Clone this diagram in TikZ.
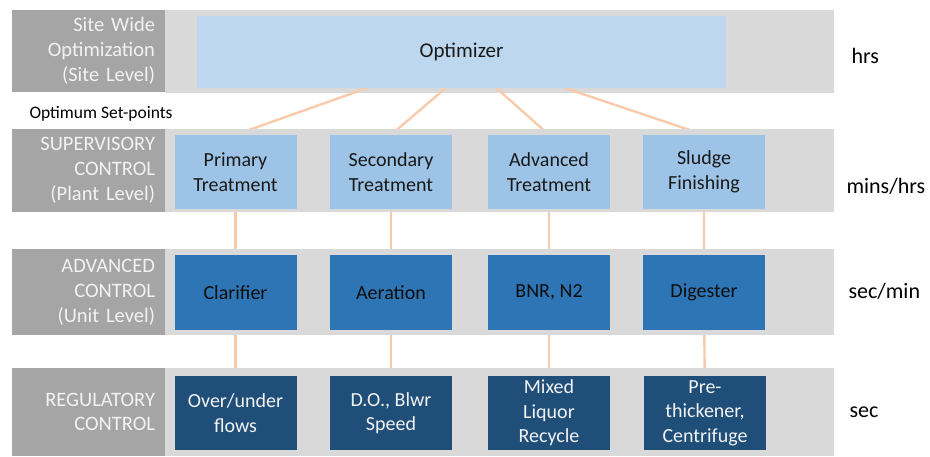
\documentclass[tikz,border=0pt]{standalone}
\usepackage{fontspec}
\setmainfont{Carlito}
\usepackage{tikz}
\usetikzlibrary{positioning}
\definecolor{bandgray}{HTML}{D9D9D9}
\definecolor{lvlgray}{HTML}{A5A5A5}
\definecolor{optblue}{HTML}{BDD7EE}
\definecolor{plantblue}{HTML}{9DC3E6}
\definecolor{unitblue}{HTML}{2E75B6}
\definecolor{regblue}{HTML}{1F4E79}
\definecolor{linkpeach}{HTML}{F8CBAD}
\pgfdeclarelayer{topband}
\pgfdeclarelayer{links}
\pgfdeclarelayer{bands}
\pgfsetlayers{topband,links,bands,main}
\newcommand{\boxfont}{\fontsize{20}{24.5}\selectfont}
\tikzset{
  band/.style={fill=bandgray, minimum width=669pt, inner sep=0pt},
  lvl/.style={fill=lvlgray, text=white!95!black, text width=133pt, inner xsep=10pt, inner ysep=0pt, align=right, font=\fontsize{20.5}{24.8}\selectfont},
  tier/.style={minimum width=122pt, inner sep=0pt, align=center, font=\boxfont},
  planttier/.style={tier, fill=plantblue, text=black!90, minimum height=74pt},
  unittier/.style={tier, fill=unitblue, text=black!95, minimum height=75pt},
  regtier/.style={tier, fill=regblue, text=white!95!black, minimum height=74pt},
  tscale/.style={anchor=base west, font=\fontsize{22}{26}\selectfont},
  link/.style={draw=linkpeach, line width=2.4pt}
}

\begin{document}
\begin{tikzpicture}[x=1pt, y=-1pt]
  \useasboundingbox (0,0) rectangle (930,456);

  % site level
  \begin{pgfonlayer}{topband}
    \node[band, minimum height=83pt] (b1) at (499.5,51.5) {};
    \node[lvl, minimum height=82pt] (l1) at (88.5,51) {Site Wide\\Optimization\\(Site Level)};
  \end{pgfonlayer}
  \node[fill=optblue, minimum width=529pt, minimum height=72pt, inner sep=0pt, font=\fontsize{21}{25}\selectfont, text=black!90] (opt) at (461.5,52) {Optimizer};
  \node[tscale] (h1) at (848,63) {hrs};
  \node[anchor=base west, font=\fontsize{17.5}{21}\selectfont] (osp) at (26,118) {Optimum Set-points};

  % plant level
  \begin{pgfonlayer}{bands}
    \node[band, minimum height=83pt] (b2) at (499.5,170.5) {};
    \node[lvl, minimum height=83pt] (l2) at (88.5,170.5) {SUPERVISORY\\CONTROL\\(Plant Level)};
    \node[band, minimum height=86pt] (b3) at (499.5,292) {};
    \node[lvl, minimum height=86pt] (l3) at (88.5,292) {ADVANCED\\CONTROL\\(Unit Level)};
    \node[band, minimum height=88pt] (b4) at (499.5,412) {};
    \node[lvl, minimum height=88pt] (l4) at (88.5,412) {REGULATORY\\CONTROL};
  \end{pgfonlayer}

  \node[planttier] (pt1) at (235.5,172) {Primary\\Treatment};
  \node[planttier] (pt2) at (391,172) {Secondary\\Treatment};
  \node[planttier] (pt3) at (549,172) {Advanced\\Treatment};
  \node[planttier] (pt4) at (704,172) {Sludge\\Finishing};
  \node[tscale] (h2) at (843,193) {mins/hrs};

  % unit level
  \node[unittier] (ut1) at (235.5,292.5) {Clarifier};
  \node[unittier] (ut2) at (391,292.5) {Aeration};
  \node[unittier] (ut3) at (549,292.5) {BNR, N2};
  \node[unittier] (ut4) at (704,292.5) {Digester};
  \node[tscale] (h3) at (845,298) {sec/min};

  % regulatory
  \node[regtier] (rt1) at (235.5,413) {Over/under\\flows};
  \node[regtier] (rt2) at (391,413) {D.O., Blwr\\Speed};
  \node[regtier] (rt3) at (549,413) {Mixed\\Liquor\\Recycle};
  \node[regtier] (rt4) at (705,413) {Pre-\\thickener,\\Centrifuge};
  \node[tscale] (h4) at (846,417) {sec};

  \begin{pgfonlayer}{links}
    \draw[link] ([xshift=-95pt]opt.south) -- (pt1.north);
    \draw[link] ([xshift=-16pt]opt.south) -- (pt2.north);
    \draw[link] ([xshift=35pt]opt.south) -- (pt3.north);
    \draw[link] ([xshift=104pt]opt.south) -- (pt4.north);
    \draw[link] (pt1) -- (ut1) -- (rt1);
    \draw[link] (pt2) -- (ut2) -- (rt2);
    \draw[link] (pt3) -- (ut3) -- (rt3);
    \draw[link] (pt4) -- (ut4) -- (rt4);
  \end{pgfonlayer}
\end{tikzpicture}
\end{document}
